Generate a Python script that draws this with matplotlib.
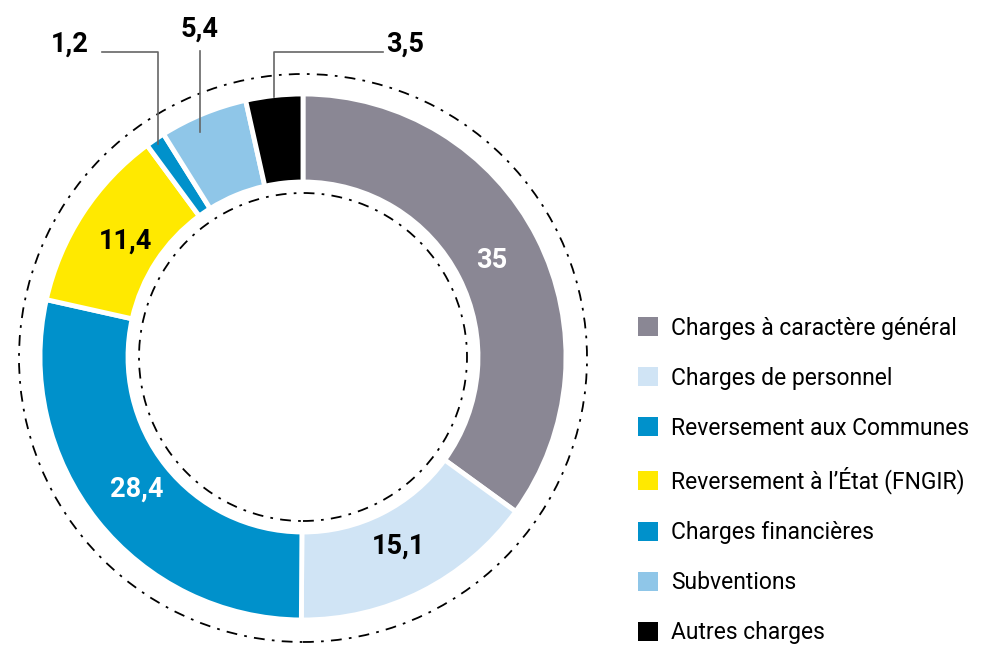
import numpy as np
import matplotlib.pyplot as plt
from matplotlib.patches import Patch, Circle

plt.rcParams['font.family'] = ['Roboto', 'DejaVu Sans']

categories = ['Charges à caractère général', 'Charges de personnel',
              'Reversement aux Communes', "Reversement à l\u2019État (FNGIR)",
              'Charges financières', 'Subventions', 'Autres charges']
values = [35, 15.1, 28.4, 11.4, 1.2, 5.4, 3.5]
colors = ['#8a8794', '#d0e4f5', '#0091cb', '#ffe900', '#0091cb', '#8fc6e8', '#000000']
# label colour inside the ring (None = label drawn outside with a leader line)
label_colors = ['white', 'black', 'white', 'black', None, None, None]

W, H = 982, 646
fig = plt.figure(figsize=(W / 100, H / 100), dpi=100)
ax = fig.add_axes([0, 0, 1, 1])

cx, cy = 303, H - 357
r_out, r_in = 263, 175

wedges, _ = ax.pie(values, colors=colors, startangle=90, counterclock=False,
                   center=(cx, cy), radius=r_out, frame=True,
                   wedgeprops=dict(width=r_out - r_in, edgecolor='white', linewidth=3.5))
ax.set_xlim(0, W)
ax.set_ylim(0, H)
ax.set_aspect('equal')
ax.axis('off')

dash = (0, (6, 4, 1.5, 4))
ax.add_patch(Circle((cx, cy - 1), 284, fill=False, ec='black', lw=1.3, ls=dash))
ax.add_patch(Circle((cx, cy), 164, fill=False, ec='black', lw=1.3, ls=dash))


def fmt(v):
    return f'{v:g}'.replace('.', ',')


mid_angles = [np.deg2rad((w.theta1 + w.theta2) / 2) for w in wedges]
num_fs = 19.5

for v, a, c in zip(values, mid_angles, label_colors):
    if c is None:
        continue
    x = cx + 212 * np.cos(a)
    y = cy + 212 * np.sin(a)
    ax.text(x, y, fmt(v), color=c, fontsize=num_fs, fontweight='bold',
            ha='center', va='center')

# outside labels with leader lines
line_y = H - 52
outside = {4: dict(r=258, tx=70, side='left'),
           5: dict(r=243, tx=200, side='up'),
           6: dict(r=262, tx=405, side='right')}
lc = '#666666'
for i, o in outside.items():
    a = mid_angles[i]
    x0 = cx + o['r'] * np.cos(a)
    y0 = cy + o['r'] * np.sin(a)
    if o['side'] == 'up':
        ax.plot([o['tx'], o['tx']], [y0, H - 51], color=lc, lw=1.2)
        ax.text(o['tx'], H - 37, fmt(values[i]), fontsize=num_fs, fontweight='bold',
                ha='center', va='baseline')
    elif o['side'] == 'left':
        ax.plot([x0, x0, o['tx'] + 32], [y0, line_y, line_y], color=lc, lw=1.2)
        ax.text(o['tx'], line_y, fmt(values[i]), fontsize=num_fs, fontweight='bold',
                ha='center', va='baseline')
    else:
        ax.plot([x0, x0, o['tx'] - 22], [y0, line_y, line_y], color=lc, lw=1.2)
        ax.text(o['tx'], line_y, fmt(values[i]), fontsize=num_fs, fontweight='bold',
                ha='center', va='baseline')

handles = [Patch(facecolor=c, edgecolor='none') for c in colors]
ax.legend(handles, categories, loc='upper left', bbox_to_anchor=(633 / W, 1 - 312 / H),
          frameon=False, fontsize=16.5, handlelength=0.9, handleheight=0.9,
          labelspacing=1.18, handletextpad=0.55, borderaxespad=0, borderpad=0.2)

fig.savefig('out.png', dpi=100)
